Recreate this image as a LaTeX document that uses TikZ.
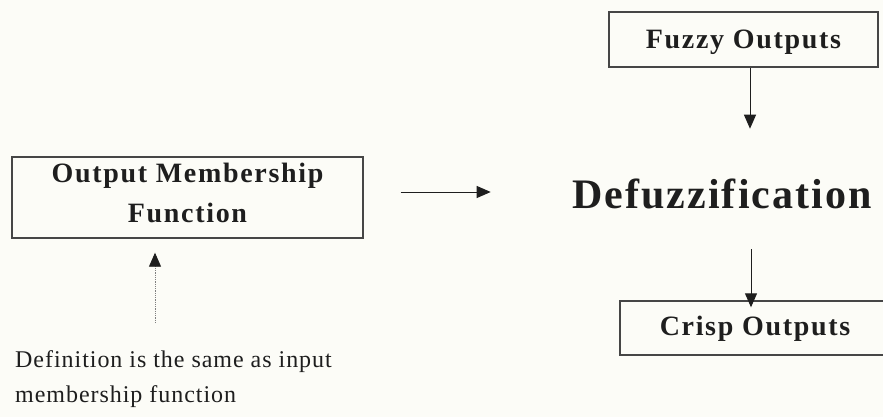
\documentclass[tikz,border=0pt]{standalone}
\usepackage{fontspec}
\setmainfont{Liberation Serif}
\newfontfamily\boxfont[LetterSpace=6]{Liberation Serif}
\newfontfamily\titlefont[LetterSpace=5]{Liberation Serif}
\newfontfamily\notefont[LetterSpace=4]{Liberation Serif}
\usetikzlibrary{arrows.meta,calc}
\definecolor{bg}{RGB}{252,252,247}
\definecolor{ink}{RGB}{30,30,30}
\definecolor{edge}{RGB}{70,70,70}
\begin{document}
\begin{tikzpicture}[x=1pt,y=-1pt,
  box/.style={draw=edge, line width=1.4pt, fill=none, text=ink, inner sep=0pt,
    font=\boxfont\bfseries\fontsize{28}{40}\selectfont, align=center},
  arr/.style={draw=ink, line width=1pt, -{Triangle[length=14pt,width=12pt]}},
  darr/.style={draw=gray, line width=0.9pt, dash pattern=on 1pt off 0.8pt,
    -{Triangle[length=14pt,width=12pt,fill=ink,color=ink]}}]
\useasboundingbox[fill=bg] (0,0) rectangle (883,417);
\node[box, minimum width=351pt, minimum height=81pt, text depth=10pt] (omf) at (187.5,197.5) {Output Membership\\Function};
\node[box, minimum width=269pt, minimum height=55pt, text height=19pt, text depth=0pt] (fuzzy) at (743.5,39.5) {Fuzzy Outputs};
\node[box, minimum width=270pt, minimum height=54pt, text height=19pt, text depth=4pt] (crisp) at (755,328) {Crisp Outputs};
\node[text=ink, inner sep=0pt, anchor=base, font=\titlefont\bfseries\fontsize{42}{50}\selectfont] (defuzz) at (722,208) {Defuzzification};
\node[text=ink, inner sep=0pt, anchor=north west, align=left, font=\notefont\fontsize{24}{35}\selectfont] (def) at (15,350) {Definition is the same as input\\membership function};
\draw[arr] ($(fuzzy.south)+(6.5,0)$) -- ++(0,61);
\draw[arr] ($(crisp.north)+(-4,-51)$) -- ($(crisp.north)+(-4,7)$);
\draw[arr] ($(omf.east)+(37,-5.5)$) -- ++(90,0);
\draw[darr] ($(def.north west)+(140,-27)$) -- ($(omf.south)+(-32.5,14)$);
\end{tikzpicture}
\end{document}
